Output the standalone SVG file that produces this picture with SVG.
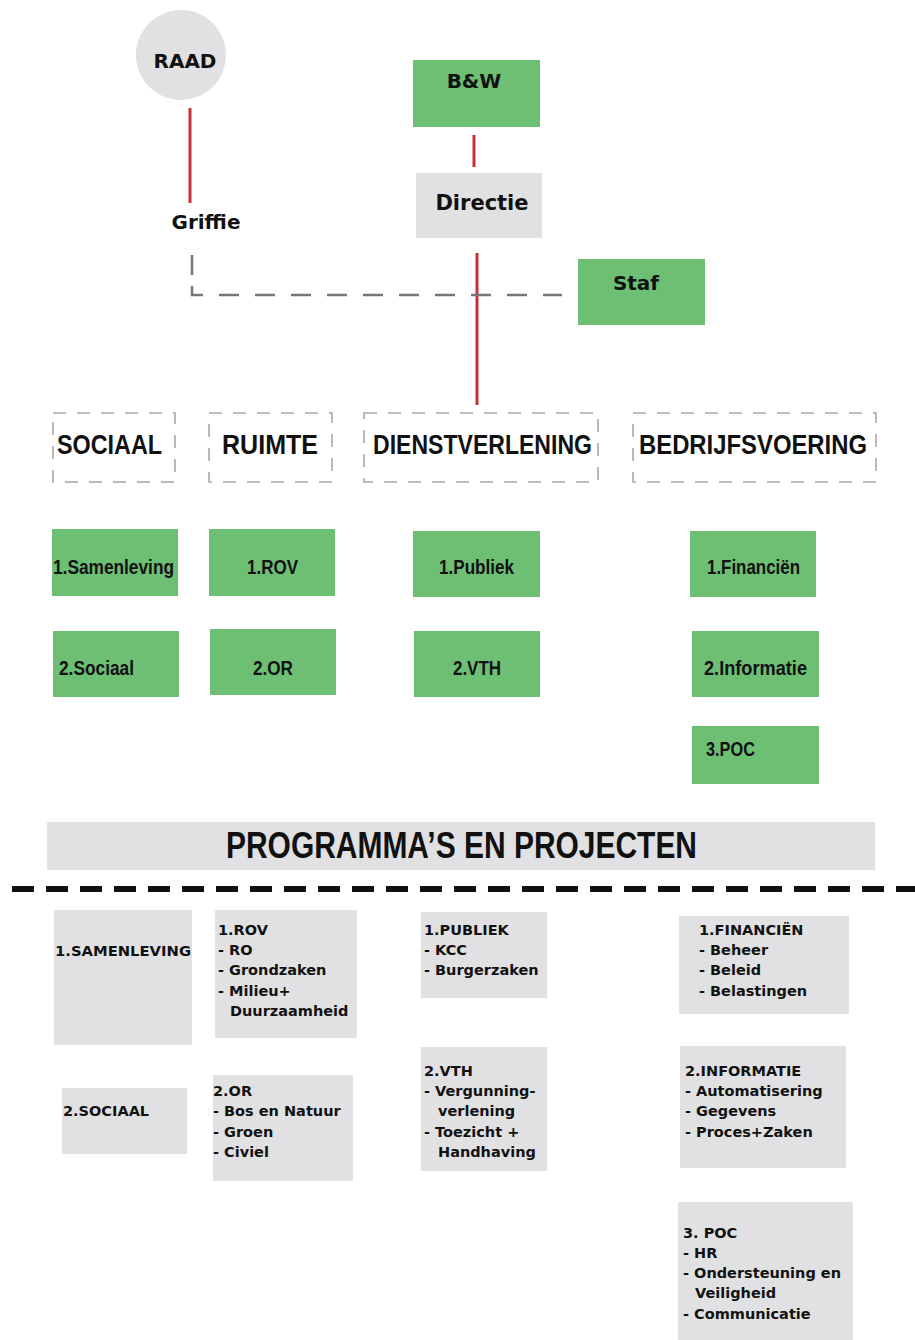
<svg xmlns="http://www.w3.org/2000/svg" width="915" height="1340" viewBox="0 0 915 1340">
  <style>
    .green { fill: #6dbf74; }
    .grey { fill: #e1e1e3; }
    .frame { fill: none; stroke: #a8a8a8; stroke-width: 1.6; stroke-dasharray: 13 11; }
    .red { stroke: #c9303a; stroke-width: 3; fill: none; }
    .link { stroke: #777; stroke-width: 2.5; fill: none; stroke-dasharray: 20 16; }
    .rule { stroke: #111; stroke-width: 6; fill: none; stroke-dasharray: 22 12; }
    .head { font-family: "DejaVu Sans", Verdana, sans-serif; font-weight: bold; fill: #111; }
    .cond { font-family: "Liberation Sans Narrow", "Liberation Sans", Arial, sans-serif; font-weight: bold; fill: #111; }
    .list { font-family: "DejaVu Sans", Verdana, sans-serif; font-weight: bold; font-size: 14.5px; fill: #111; }
  </style>

  <!-- connectors -->
  <g id="connectors">
    <line class="red" x1="190" y1="108" x2="190" y2="203"/>
    <line class="red" x1="474" y1="135" x2="474" y2="167"/>
    <line class="red" x1="477" y1="253" x2="477" y2="405"/>
    <path class="link" d="M192 255 V280" stroke-dasharray="10 8"/>
    <path class="link" d="M192 286 V295 H562"/>
    <line class="rule" x1="12" y1="889" x2="915" y2="889"/>
  </g>

  <!-- top level -->
  <g id="raad">
    <circle class="grey" cx="181" cy="55" r="45"/>
    <text class="head" x="185" y="68" font-size="20" text-anchor="middle">RAAD</text>
  </g>
  <g id="griffie">
    <text class="head" x="206" y="229" font-size="20" text-anchor="middle">Griffie</text>
  </g>
  <g id="bw">
    <rect class="green" x="413" y="60" width="127" height="67"/>
    <text class="head" x="474" y="88" font-size="20" text-anchor="middle">B&amp;W</text>
  </g>
  <g id="directie">
    <rect class="grey" x="416" y="173" width="126" height="65"/>
    <text class="head" x="482" y="210" font-size="21" text-anchor="middle">Directie</text>
  </g>
  <g id="staf">
    <rect class="green" x="578" y="259" width="127" height="66"/>
    <text class="head" x="636" y="290" font-size="20" text-anchor="middle">Staf</text>
  </g>

  <!-- domains -->
  <g id="sociaal">
    <rect class="frame" x="53" y="413" width="122" height="69"/>
    <text class="cond" x="57" y="454" font-size="27" textLength="105" lengthAdjust="spacingAndGlyphs">SOCIAAL</text>
  </g>
  <g id="ruimte">
    <rect class="frame" x="209" y="413" width="123" height="69"/>
    <text class="cond" x="222" y="454" font-size="27" textLength="96" lengthAdjust="spacingAndGlyphs">RUIMTE</text>
  </g>
  <g id="dienstverlening">
    <rect class="frame" x="364" y="413" width="234" height="69"/>
    <text class="cond" x="373" y="454" font-size="27" textLength="219" lengthAdjust="spacingAndGlyphs">DIENSTVERLENING</text>
  </g>
  <g id="bedrijfsvoering">
    <rect class="frame" x="633" y="413" width="243" height="69"/>
    <text class="cond" x="639" y="454" font-size="27" textLength="228" lengthAdjust="spacingAndGlyphs">BEDRIJFSVOERING</text>
  </g>

  <!-- departments -->
  <g id="d-samenleving">
    <rect class="green" x="52" y="529" width="126" height="67"/>
    <text class="cond" x="53" y="574" font-size="20" textLength="121" lengthAdjust="spacingAndGlyphs">1.Samenleving</text>
  </g>
  <g id="d-rov">
    <rect class="green" x="209" y="529" width="126" height="67"/>
    <text class="cond" x="247" y="574" font-size="20" textLength="51" lengthAdjust="spacingAndGlyphs">1.ROV</text>
  </g>
  <g id="d-publiek">
    <rect class="green" x="413" y="531" width="127" height="66"/>
    <text class="cond" x="439" y="574" font-size="20" textLength="75" lengthAdjust="spacingAndGlyphs">1.Publiek</text>
  </g>
  <g id="d-financien">
    <rect class="green" x="690" y="531" width="126" height="66"/>
    <text class="cond" x="707" y="574" font-size="20" textLength="93" lengthAdjust="spacingAndGlyphs">1.Financiën</text>
  </g>
  <g id="d-sociaal">
    <rect class="green" x="53" y="631" width="126" height="66"/>
    <text class="cond" x="59" y="675" font-size="20" textLength="75" lengthAdjust="spacingAndGlyphs">2.Sociaal</text>
  </g>
  <g id="d-or">
    <rect class="green" x="210" y="629" width="126" height="66"/>
    <text class="cond" x="253" y="675" font-size="20" textLength="40" lengthAdjust="spacingAndGlyphs">2.OR</text>
  </g>
  <g id="d-vth">
    <rect class="green" x="414" y="631" width="126" height="66"/>
    <text class="cond" x="453" y="675" font-size="20" textLength="48" lengthAdjust="spacingAndGlyphs">2.VTH</text>
  </g>
  <g id="d-informatie">
    <rect class="green" x="692" y="631" width="127" height="66"/>
    <text class="cond" x="704" y="675" font-size="20" textLength="103" lengthAdjust="spacingAndGlyphs">2.Informatie</text>
  </g>
  <g id="d-poc">
    <rect class="green" x="692" y="726" width="127" height="58"/>
    <text class="cond" x="706" y="756" font-size="20" textLength="49" lengthAdjust="spacingAndGlyphs">3.POC</text>
  </g>

  <!-- programmes banner -->
  <g id="programmas">
    <rect class="grey" x="47" y="822" width="828" height="48"/>
    <text class="cond" x="226" y="858" font-size="36" textLength="471" lengthAdjust="spacingAndGlyphs">PROGRAMMA’S EN PROJECTEN</text>
  </g>

  <!-- programme details -->
  <g id="p-samenleving">
    <rect class="grey" x="54" y="910" width="138" height="135"/>
    <text class="list" x="55" y="956" textLength="136" lengthAdjust="spacingAndGlyphs">1.SAMENLEVING</text>
  </g>
  <g id="p-rov">
    <rect class="grey" x="215" y="910" width="142" height="128"/>
    <text class="list">
      <tspan x="218" y="935">1.ROV</tspan>
      <tspan x="218" y="955">- RO</tspan>
      <tspan x="218" y="975">- Grondzaken</tspan>
      <tspan x="218" y="996">- Milieu+</tspan>
      <tspan x="230" y="1016">Duurzaamheid</tspan>
    </text>
  </g>
  <g id="p-publiek">
    <rect class="grey" x="421" y="912" width="126" height="86"/>
    <text class="list">
      <tspan x="424" y="935">1.PUBLIEK</tspan>
      <tspan x="424" y="955">- KCC</tspan>
      <tspan x="424" y="975">- Burgerzaken</tspan>
    </text>
  </g>
  <g id="p-financien">
    <rect class="grey" x="679" y="916" width="170" height="98"/>
    <text class="list">
      <tspan x="699" y="935">1.FINANCIËN</tspan>
      <tspan x="699" y="955">- Beheer</tspan>
      <tspan x="699" y="975">- Beleid</tspan>
      <tspan x="699" y="996">- Belastingen</tspan>
    </text>
  </g>
  <g id="p-sociaal">
    <rect class="grey" x="62" y="1088" width="125" height="66"/>
    <text class="list" x="63" y="1116">2.SOCIAAL</text>
  </g>
  <g id="p-or">
    <rect class="grey" x="213" y="1075" width="140" height="106"/>
    <text class="list">
      <tspan x="213" y="1096">2.OR</tspan>
      <tspan x="213" y="1116">- Bos en Natuur</tspan>
      <tspan x="213" y="1137">- Groen</tspan>
      <tspan x="213" y="1157">- Civiel</tspan>
    </text>
  </g>
  <g id="p-vth">
    <rect class="grey" x="421" y="1047" width="126" height="124"/>
    <text class="list">
      <tspan x="424" y="1076">2.VTH</tspan>
      <tspan x="424" y="1096">- Vergunning-</tspan>
      <tspan x="438" y="1116">verlening</tspan>
      <tspan x="424" y="1137">- Toezicht +</tspan>
      <tspan x="438" y="1157">Handhaving</tspan>
    </text>
  </g>
  <g id="p-informatie">
    <rect class="grey" x="680" y="1046" width="166" height="122"/>
    <text class="list">
      <tspan x="685" y="1076">2.INFORMATIE</tspan>
      <tspan x="685" y="1096">- Automatisering</tspan>
      <tspan x="685" y="1116">- Gegevens</tspan>
      <tspan x="685" y="1137">- Proces+Zaken</tspan>
    </text>
  </g>
  <g id="p-poc">
    <rect class="grey" x="678" y="1202" width="175" height="138"/>
    <text class="list">
      <tspan x="683" y="1238">3. POC</tspan>
      <tspan x="683" y="1258">- HR</tspan>
      <tspan x="683" y="1278">- Ondersteuning en</tspan>
      <tspan x="695" y="1298">Veiligheid</tspan>
      <tspan x="683" y="1319">- Communicatie</tspan>
    </text>
  </g>
</svg>
